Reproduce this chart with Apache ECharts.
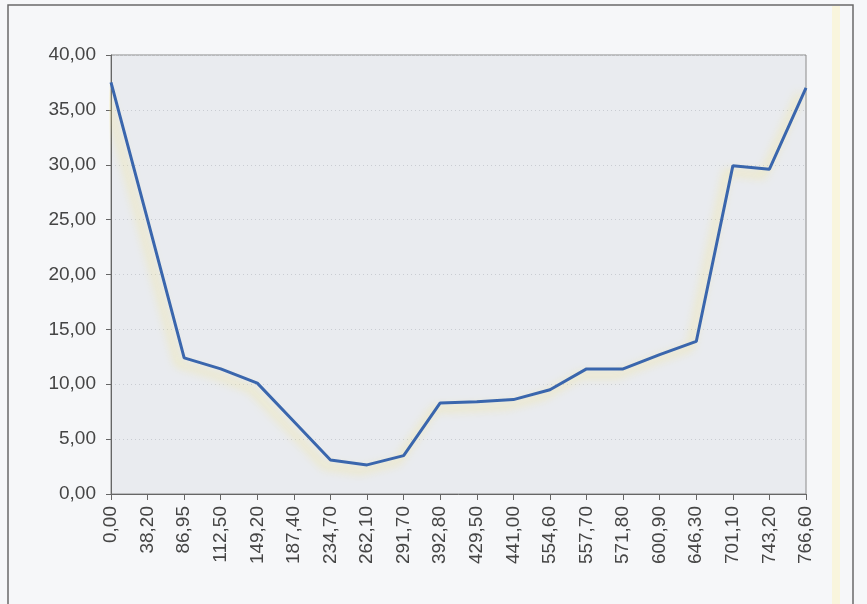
<!DOCTYPE html>
<html>
<head>
<meta charset="utf-8">
<script src="https://cdn.jsdelivr.net/npm/echarts@6/dist/echarts.min.js"></script>
<style>
  html, body { margin: 0; padding: 0; background: #f6f7f9; }
  #chart { width: 867px; height: 604px; }
</style>
</head>
<body>
<div id="chart"></div>
<script>
// Distance stations along the profile (x axis categories)
const stations = ['0,00','38,20','86,95','112,50','149,20','187,40','234,70','262,10','291,70','392,80',
                  '429,50','441,00','554,60','557,70','571,80','600,90','646,30','701,10','743,20','766,60'];
// Measured value at each station
const values = [37.5, 25.0, 12.4, 11.4, 10.1, 6.6, 3.1, 2.65, 3.5, 8.3,
                8.4, 8.6, 9.5, 11.4, 11.4, 12.7, 13.9, 29.9, 29.6, 37.0];
// Y axis range
const yMin = 0, yMax = 40, yStep = 5;

const fmt = v => v.toFixed(2).replace('.', ',');

const chart = echarts.init(document.getElementById('chart'));
chart.setOption({
  backgroundColor: '#f6f7f9',
  animation: false,
  graphic: [
    { type: 'rect', shape: { x: 8, y: 5, width: 845, height: 620 },
      style: { fill: 'none', stroke: '#6a6a6a', lineWidth: 1.5 }, z: -1 },
    { type: 'rect', shape: { x: 832, y: 6, width: 8, height: 600 },
      style: { fill: 'rgba(255,240,170,0.35)' }, z: -1 }
  ],
  grid: { left: 111, right: 61, top: 55, bottom: 110, show: true,
          backgroundColor: '#e9ebef', borderColor: '#8a8a8a', borderWidth: 1 },
  xAxis: {
    type: 'category', data: stations,
    boundaryGap: false,
    axisLine: { lineStyle: { color: '#666', width: 1 } },
    axisTick: { show: true, length: 6, lineStyle: { color: '#666' } },
    axisLabel: { rotate: 90, fontSize: 19, color: '#454545', margin: 12, fontFamily: 'Liberation Sans' },
    splitLine: { show: false }
  },
  yAxis: {
    type: 'value', min: yMin, max: yMax, interval: yStep,
    axisLine: { show: true, lineStyle: { color: '#666', width: 1 } },
    axisTick: { show: true, length: 5, lineStyle: { color: '#666' } },
    axisLabel: { formatter: fmt, fontSize: 19, color: '#454545', margin: 15, fontFamily: 'Liberation Sans' },
    splitLine: { show: true, lineStyle: { color: '#c9ccd2', type: [1, 3], width: 1 } }
  },
  series: [{
    type: 'line', data: values, symbol: 'none',
    lineStyle: { color: '#3a66ad', width: 3,
      shadowColor: 'rgba(245,230,120,0.75)', shadowBlur: 10, shadowOffsetX: -6, shadowOffsetY: 6 }
  }]
});
</script>
</body>
</html>
